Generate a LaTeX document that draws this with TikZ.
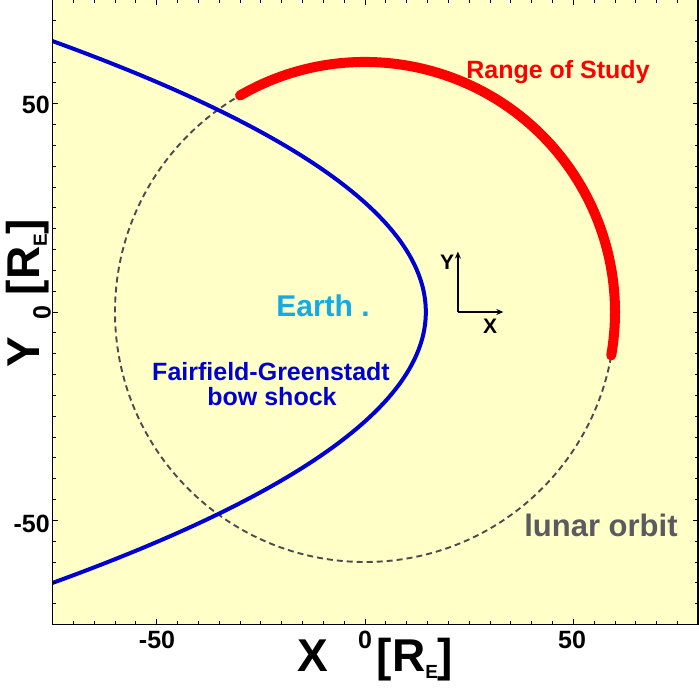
\documentclass[tikz,border=0pt]{standalone}
\usepackage{fontspec}
\setmainfont{Liberation Sans}
\usetikzlibrary{arrows.meta}
\definecolor{bgyellow}{RGB}{255,255,200}
\definecolor{shockblue}{RGB}{0,0,210}
\definecolor{earthcyan}{RGB}{20,170,230}
\definecolor{orbitgray}{RGB}{75,75,80}
\definecolor{labelgray}{RGB}{90,90,95}
\tikzset{
  lbl/.style={font=\bfseries\fontsize{#1}{#1}\selectfont, inner sep=0pt},
  ticklbl/.style={lbl=25},
  minortick/.style={line width=0.8pt},
}
\begin{document}
\begin{tikzpicture}[x=1pt,y=1pt]
\useasboundingbox (0,0) rectangle (699,-690);
% data scope: origin at pixel (365,312), 4.1667 px per unit
\begin{scope}[shift={(365,-312)}, x=4.1667pt, y=4.1667pt]
  \fill[bgyellow] (-75,-75) rectangle (80,75);
  \begin{scope}
    \clip (-75,-75) rectangle (80,75);
    % lunar orbit
    \draw[orbitgray, line width=1.9pt, dash pattern=on 6pt off 4pt] (0,0) circle (60);
    % bow shock
    \draw[shockblue, line width=4pt, domain=-70:70, samples=120] plot ({14.6-0.0212*\x*\x},\x);
    % range of study
    \draw[red, line width=10pt, line cap=round] (120:60) arc[start angle=120, end angle=-10, radius=60];
  \end{scope}
  % ticks
  \foreach \t in {-70,-65,...,80} {
    \draw[minortick] (\t,-75) -- ++(0,0.8);
    \draw[minortick] (\t,75) -- ++(0,-0.8);
  }
  \foreach \t in {-50,0,50} {
    \draw[minortick] (\t,-75) -- ++(0,1.3);
    \draw[minortick] (\t,75) -- ++(0,-1.3);
  }
  \foreach \t in {-70,-65,...,70} {
    \draw[minortick] (-75,\t) -- ++(0.8,0);
    \draw[minortick] (80,\t) -- ++(-0.8,0);
  }
  \foreach \t in {-50,0,50} {
    \draw[minortick] (-75,\t) -- ++(1.3,0);
    \draw[minortick] (80,\t) -- ++(-1.3,0);
  }
  \draw[line width=1.8pt] (-75,-75) rectangle (80,75);
  % small XY axes
  \coordinate (o) at (22.3,0);
  \coordinate (ya) at (22.3,14.5);
  \coordinate (xa) at (33.2,0);
  \draw[line width=1.4pt, -{Stealth[length=7pt,width=6pt]}] (o) -- (ya);
  \draw[line width=1.4pt, -{Stealth[length=7pt,width=6pt]}] (o) -- (xa);
\end{scope}
% small axis labels
\node[lbl=21] (ylab) at (447,-262) {Y};
\node[lbl=21] (xlab) at (490,-326) {X};
% texts inside
\node[lbl=25, text=red, anchor=base] (range) at (558,-79) {Range of Study};
\node[lbl=30, text=earthcyan, anchor=base] (earth) at (323,-316) {Earth .};
\node[lbl=25, text=shockblue, anchor=base] (fg1) at (271,-380) {Fairfield-Greenstadt};
\node[lbl=25, text=shockblue, anchor=base] (fg2) at (272,-405) {bow shock};
\node[lbl=31, text=labelgray, anchor=base] (lunar) at (601,-536) {lunar orbit};
% tick labels
\node[ticklbl] (xm50) at (157,-640) {-50};
\node[ticklbl] (x0) at (365,-640) {0};
\node[ticklbl] (x50) at (572,-640) {50};
\node[ticklbl, anchor=east] (y50) at (50,-105) {50};
\node[ticklbl, anchor=east] (ym50) at (50,-524) {-50};
\node[ticklbl, rotate=90] (y0) at (42,-313) {0};
% axis labels
\node[lbl=46] (xtitle) at (313,-656) {X};
\node[lbl=46] (xunit) at (415,-660) {[R\raisebox{-7pt}{\fontsize{19}{19}\selectfont E}]};
\node[lbl=46, rotate=90] (ytitle) at (24,-352) {Y};
\node[lbl=46, rotate=90] (yunit) at (28,-257) {[R\raisebox{-7pt}{\fontsize{19}{19}\selectfont E}]};
\end{tikzpicture}
\end{document}
